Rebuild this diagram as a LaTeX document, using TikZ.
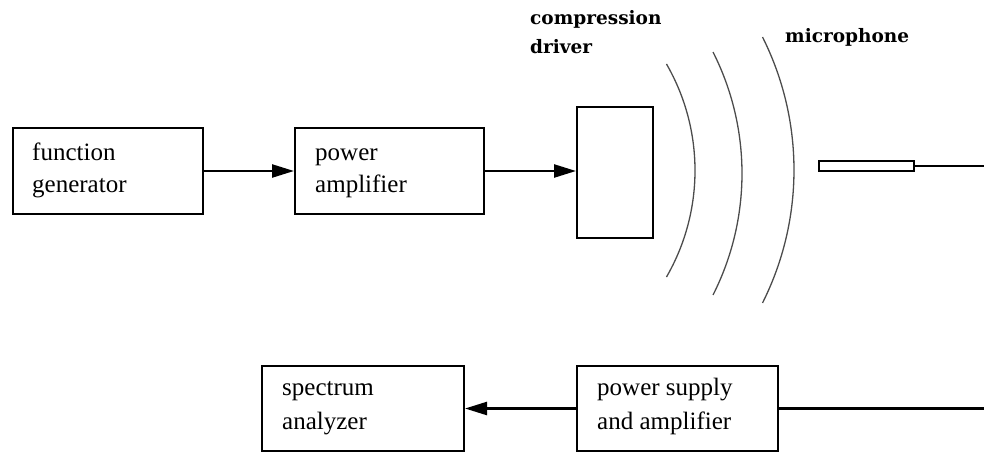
\documentclass[tikz,border=0pt]{standalone}
\usepackage{fontspec}
\setmainfont{Liberation Serif}
\newfontfamily\labfont{DejaVu Serif}
\usetikzlibrary{arrows.meta}

\begin{document}
\begin{tikzpicture}[x=1pt,y=-1pt,
  blockbox/.style={draw, line width=2pt, inner sep=0pt, anchor=north west},
  blocktext/.style={anchor=base west, align=left, inner sep=0pt,
    font=\fontsize{25}{32}\selectfont},
  toplabel/.style={anchor=base west, align=left, inner sep=0pt,
    font=\labfont\bfseries\fontsize{18.5}{28}\selectfont},
  flow/.style={line width=2.4pt, -{Triangle[length=22pt,width=13pt]}},
  wire/.style={line width=2.4pt},
  wave/.style={draw=black!70, line width=1.3pt}
]
\useasboundingbox (0,0) rectangle (984,452);

% signal chain, upper row
\node[blockbox, minimum width=190pt, minimum height=86pt] (fg) at (12,127) {};
\node[blocktext] (fgt) at (32,160) {function};
\node[blocktext] (fgt2) at (32,192) {generator};
\node[blockbox, minimum width=189pt, minimum height=86pt] (pa) at (294,127) {};
\node[blocktext] (pat) at (315,160) {power};
\node[blocktext] (pat2) at (315,192) {amplifier};
\node[blockbox, minimum width=76pt, minimum height=131pt] (cd) at (576,106) {};
\node[toplabel] (cdt) at (530,25) {compression};
\node[toplabel] (cdt2) at (530,53) {driver};

% sound waves leaving the driver
\draw[wave] (482,170.5) ++(-30:213) arc[start angle=-30, end angle=30, radius=213];
\draw[wave] (473,173.5) ++(-26.85:269) arc[start angle=-26.85, end angle=26.85, radius=269];
\draw[wave] (497.5,170) ++(-26.65:296.5) arc[start angle=-26.65, end angle=26.65, radius=296.5];

% microphone
\node[draw, line width=1.5pt, inner sep=0pt, anchor=north west,
  minimum width=95pt, minimum height=10pt] (mic) at (818,160) {};
\node[toplabel] (mict) at (785,43) {microphone};
\coordinate (micend) at (984,165);
\draw[line width=1.6pt] (mic.east) -- (mic.east -| micend);

% lower row
\node[blockbox, minimum width=202pt, minimum height=85pt] (sa) at (261,365) {};
\node[blocktext] (sat) at (282,395) {spectrum};
\node[blocktext] (sat2) at (282,429) {analyzer};
\node[blockbox, minimum width=201pt, minimum height=85pt] (ps) at (576,365) {};
\node[blocktext] (pst) at (597,395) {power supply};
\node[blocktext] (pst2) at (597,429) {and amplifier};
\coordinate (psin) at (984,407);

% connections
\draw[flow] (fg.east) -- (fg.east -| pa.west);
\draw[flow] (pa.east) -- (pa.east -| cd.west);
\draw[wire] (ps.east -| psin) -- (ps.east);
\draw[flow] (ps.west) -- (ps.west -| sa.east);
\end{tikzpicture}
\end{document}
